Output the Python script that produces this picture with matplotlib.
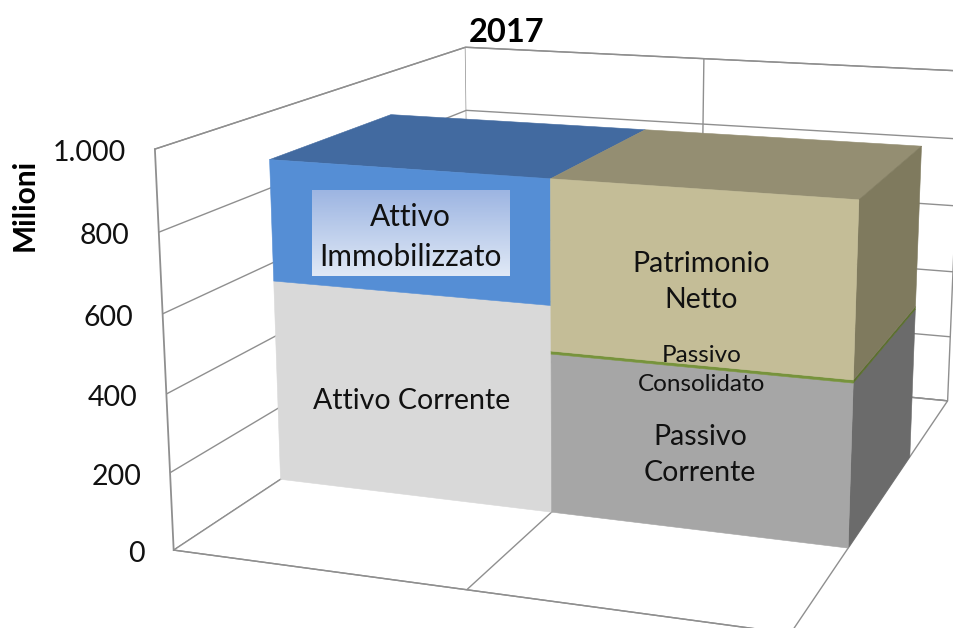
import matplotlib
matplotlib.use('Agg')
import matplotlib.pyplot as plt
import matplotlib.colors as mcolors
import numpy as np

# values in millions, stacked per category
bar_x = [0, 0, 1, 1, 1]
bar_bottom = [0, 550, 0, 423, 431]
bar_height = [550, 325, 423, 8, 444]
bar_names = ['Attivo Corrente', 'Attivo\nImmobilizzato', 'Passivo\nCorrente', 'Passivo\nConsolidato', 'Patrimonio\nNetto']
z_ticks = [0, 200, 400, 600, 800, 1000]
z_labels = ['0', '200', '400', '600', '800', '1.000']

# front, top, side colour of each block ('none' = face never seen)
front = ['#D9D9D9', '#558ED5', '#A6A6A6', '#77933C', '#C4BD97']
top = ['none', '#426AA0', 'none', 'none', '#948E72']
side = ['none', 'none', '#6B6B6B', '#5A6E2E', '#7F7A5E']

# where known points of the chart box fall in the picture: (x, y, z) -> (px, py)
calib = [
    ((0, 0, 1000), (155, 150)), ((0, 0, 0), (173, 550.5)),
    ((0, 1, 1000), (466, 48)), ((0, 1, 0), (469, 354)),
    ((1, 1, 1000), (706, 59)), ((2, 1, 1000), (961, 72)),
    ((2, 1, 0), (948, 400)), ((1, 0, 0), (467, 590)), ((2, 0, 0), (789, 634)),
    ((0, .3, 0), (282, 480)), ((1, .3, 0), (552, 512)), ((2, .3, 0), (848, 547)),
    ((0, .3, 875), (270, 160)), ((1, .3, 875), (552, 178)), ((2, .3, 875), (860, 198)),
    ((0, .7, 875), (390, 113)), ((1, .7, 875), (640, 128)), ((2, .7, 875), (922, 148)),
    ((2, .7, 0), (910, 458)),
]

plt.rcParams['font.family'] = ['Lato', 'DejaVu Sans']
plt.rcParams['grid.color'] = '#8f8f8f'
plt.rcParams['grid.linewidth'] = 1.0

W, H = 954, 628
fig = plt.figure(figsize=(W / 100, H / 100), dpi=100)
# square axes a bit taller than the figure, so nothing gets clipped
ax = fig.add_axes([0, (H - W) / 2 / H, 1, W / H], projection='3d')
ax.set_xlim(0, 2)
ax.set_ylim(0, 1)
ax.set_zlim(0, 1000)
ax.apply_aspect()

# camera matrix from the points above
pix = np.array([p for w, p in calib], float)
pix[:, 1] = H - pix[:, 1]
dat = ax.transData.inverted().transform(pix)
rows, rhs = [], []
for (w, _), (u, v) in zip(calib, dat):
    X = [w[0], w[1], w[2] / 1000, 1]
    rows.append(X + [0, 0, 0, 0] + [-u * w[0], -u * w[1], -u * w[2] / 1000])
    rhs.append(u)
    rows.append([0, 0, 0, 0] + X + [-v * w[0], -v * w[1], -v * w[2] / 1000])
    rhs.append(v)
p = np.linalg.lstsq(np.array(rows), np.array(rhs), rcond=None)[0]
P = np.append(p, 1).reshape(3, 4)
P[:, 2] /= 1000
M = np.array([P[0], P[1], [0, 0, 0, -1], P[2]])
ax.get_proj = lambda: M

for axis in (ax.xaxis, ax.yaxis, ax.zaxis):
    axis.set_pane_color('white')
    axis.pane.set_edgecolor('#8f8f8f')
    axis.pane.set_linewidth(1.0)
    axis.line.set_color('none')
    axis._axinfo['tick']['inward_factor'] = 0
    axis._axinfo['tick']['outward_factor'] = 0
    axis.set_major_formatter(plt.NullFormatter())
ax.set_xticks([1])
ax.set_yticks([])
ax.set_zticks(z_ticks)
ax.patch.set_alpha(0)
fig.patch.set_facecolor('white')

# box edges the panes leave open
ax.plot([0, 0], [0, 0], [0, 1000], color='#8f8f8f', lw=1.3)
ax.plot([0, 2], [0, 0], [0, 0], color='#8f8f8f', lw=1.0)

# bar3d face order: bottom, top, front, back, left, right
colors = []
for f, t, s in zip(front, top, side):
    colors += [mcolors.to_rgba(c) for c in ['none', t, f, 'none', 'none', s]]
ax.bar3d(bar_x, [0.3] * 5, bar_bottom, [1] * 5, [0.4] * 5, bar_height,
         color=colors, edgecolor=colors, linewidth=0.4, shade=False)

# flat layer in picture pixels for the labels
ov = fig.add_axes([0, 0, 1, 1])
ov.axis('off')
grad = np.linspace(0, 1, 100)[:, None]
cmap = mcolors.LinearSegmentedColormap.from_list('lab', ['#9DB5E2', '#E0E9F6'])
ov.imshow(grad, cmap=cmap, extent=[312, 510, 276, 190], aspect='auto', zorder=1)
ov.set_xlim(0, W)
ov.set_ylim(H, 0)

# tick labels sit just left of the front edge of the box
for z, lab in zip(z_ticks, z_labels):
    q = P @ np.array([0, 0, z, 1])
    px, py = ax.transData.transform(q[:2] / q[2])
    ov.text(px - 29, H - py + 4, lab, ha='right', va='center', fontsize=20.5, color='#111111')

label_pos = [(412, 401), (410, 237), (700, 455), (702, 370), (701, 282)]
label_size = [20.5, 21.5, 20.5, 17.5, 20.5]
for name, (px, py), fs in zip(bar_names, label_pos, label_size):
    ov.text(px, py, name, ha='center', va='center', fontsize=fs, color='#111111',
            linespacing=1.5, zorder=3)

ov.text(507, 32, '2017', ha='center', va='center', fontsize=23.5, fontweight='bold', color='black')
ov.text(25, 205, 'Milioni', ha='center', va='center', rotation=90, fontsize=21.5, fontweight='bold', color='black')

fig.savefig('out.png', dpi=100)
